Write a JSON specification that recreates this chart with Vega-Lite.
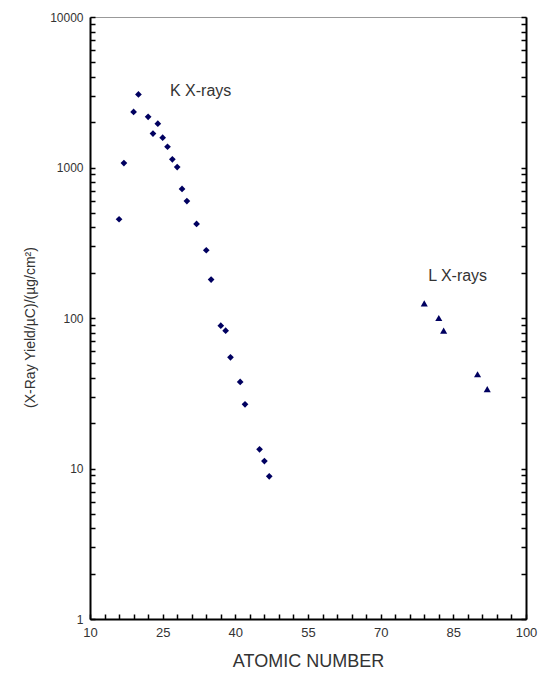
{
  "$schema": "https://vega.github.io/schema/vega-lite/v6.json",
  "autosize": {"type": "none"},
  "width": 436,
  "height": 602,
  "padding": {"left": 90, "top": 17, "right": 14, "bottom": 56},
  "background": "white",
  "config": {
    "view": {"stroke": "#999999", "strokeWidth": 1},
    "font": "Liberation Sans",
    "axis": {"grid": false, "labelFont": "Liberation Sans", "titleFont": "Liberation Sans", "labelColor": "#333333", "titleColor": "#333333", "titleFontWeight": "normal", "labelFontSize": 12, "domainColor": "#000000", "domainWidth": 2, "tickColor": "#000000", "tickWidth": 1.5}
  },
  "resolve": {"scale": {"y": "independent"}, "axis": {"y": "independent"}},
  "encoding": {
    "x": {"field": "atomic", "type": "quantitative",
      "scale": {"domain": [10, 100], "nice": false, "zero": false},
      "axis": {"title": "ATOMIC NUMBER", "titleFontSize": 18, "titleY": 42, "titleBaseline": "middle",
        "values": [10,13,16,19,22,25,28,31,34,37,40,43,46,49,52,55,58,61,64,67,70,73,76,79,82,85,88,91,94,97,100],
        "labelExpr": "indexof(['10','25','40','55','70','85','100'], datum.label) >= 0 ? datum.label : ''",
        "labelOverlap": false, "labelBound": false, "labelFlush": false, "labelFontSize": 13, "tickSize": -5, "labelPadding": 12}}
  },
  "layer": [
    {
      "data": {"values": [
        {"atomic": 16, "yield": 453},
        {"atomic": 17, "yield": 1070},
        {"atomic": 19, "yield": 2340},
        {"atomic": 20, "yield": 3060},
        {"atomic": 22, "yield": 2170},
        {"atomic": 23, "yield": 1680},
        {"atomic": 24, "yield": 1955},
        {"atomic": 25, "yield": 1578},
        {"atomic": 26, "yield": 1374},
        {"atomic": 27, "yield": 1133},
        {"atomic": 28, "yield": 1007},
        {"atomic": 29, "yield": 720},
        {"atomic": 30, "yield": 598},
        {"atomic": 32, "yield": 422},
        {"atomic": 34, "yield": 282},
        {"atomic": 35, "yield": 180},
        {"atomic": 37, "yield": 88.9},
        {"atomic": 38, "yield": 82.4},
        {"atomic": 39, "yield": 54.8},
        {"atomic": 41, "yield": 37.6},
        {"atomic": 42, "yield": 26.7},
        {"atomic": 45, "yield": 13.4},
        {"atomic": 46, "yield": 11.2},
        {"atomic": 47, "yield": 8.87}
      ]},
      "mark": {"type": "point", "shape": "diamond", "filled": true, "size": 45, "color": "#000060", "opacity": 1},
      "encoding": {
        "y": {"field": "yield", "type": "quantitative",
          "scale": {"type": "log", "domain": [1, 10000], "nice": false},
          "axis": {"title": "(X-Ray Yield/µC)/(µg/cm²)", "titleFontSize": 14, "titleX": -60, "titleY": 310, "titleBaseline": "middle", "titleAlign": "center", "titleAngle": -90,
            "values": [1,2,3,4,5,6,7,8,9,10,20,30,40,50,60,70,80,90,100,200,300,400,500,600,700,800,900,1000,2000,3000,4000,5000,6000,7000,8000,9000,10000],
            "format": "d",
            "labelExpr": "indexof(['1','10','100','1000','10000'], datum.label) >= 0 ? datum.label : ''",
            "labelOverlap": false, "tickSize": -5, "labelPadding": 12}}
      }
    },
    {
      "data": {"values": [
        {"atomic": 79, "yield": 125},
        {"atomic": 82, "yield": 100},
        {"atomic": 83, "yield": 82.4},
        {"atomic": 90, "yield": 42.3},
        {"atomic": 92, "yield": 33.7}
      ]},
      "mark": {"type": "point", "shape": "triangle-up", "filled": true, "size": 50, "color": "#000060", "opacity": 1},
      "encoding": {
        "y": {"field": "yield", "type": "quantitative",
          "scale": {"type": "log", "domain": [1, 10000], "nice": false},
          "axis": {"orient": "right", "title": null, "labels": false, "tickSize": -5,
            "values": [1,2,3,4,5,6,7,8,9,10,20,30,40,50,60,70,80,90,100,200,300,400,500,600,700,800,900,1000,2000,3000,4000,5000,6000,7000,8000,9000,10000]}}
      }
    },
    {
      "data": {"values": [
        {"atomic": 26.5, "yield": 3220, "label": "K X-rays"},
        {"atomic": 79.8, "yield": 190, "label": "L X-rays"}
      ]},
      "mark": {"type": "text", "align": "left", "baseline": "middle", "fontSize": 16, "font": "Liberation Sans", "color": "#333333"},
      "encoding": {
        "y": {"field": "yield", "type": "quantitative", "scale": {"type": "log", "domain": [1, 10000], "nice": false}, "axis": null},
        "text": {"field": "label"}
      }
    }
  ]
}
